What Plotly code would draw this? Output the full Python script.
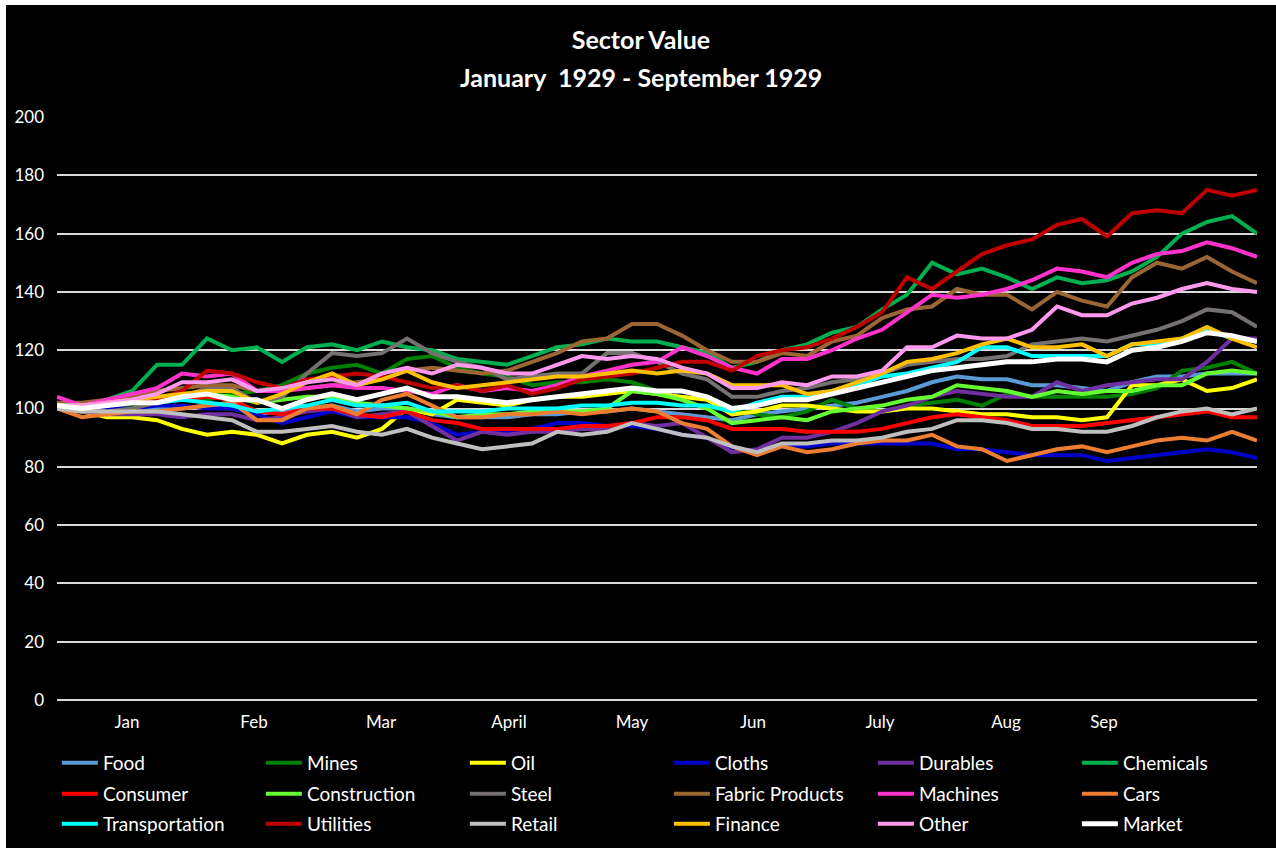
import plotly.graph_objects as go

# ---- data (index = sample position along the Jan-Sep 1929 time axis) ----
n_points = 49
month_labels = ["Jan", "Feb", "Mar", "April", "May", "Jun", "July", "Aug", "Sep"]
month_pos = [2.8, 7.88, 12.96, 18.08, 23.0, 27.84, 32.92, 37.96, 41.88]

food = [100,99,99,99,100,100,101,100,98,99, 100,101,99,100,100,98,97,97,97,98,
        98,99,99,100,99,98,97,96,98,99, 100,101,102,104,106,109,111,110,110,108,
        108,107,106,109,111,111,112,112,112]
mines = [101,100,100,101,102,103,103,105,106,108, 112,114,115,112,117,118,114,112,111,108,
         109,109,110,109,106,103,100,100,98,97, 99,103,100,99,101,102,103,101,105,104,
         104,104,104,105,107,113,114,116,112]
oil = [100,99,97,97,96,93,91,92,91,88, 91,92,90,93,100,98,103,102,101,103,
       104,104,105,106,105,104,103,98,99,101, 101,100,99,99,100,100,99,98,98,97,
       97,96,97,108,108,110,106,107,110]
cloths = [100,100,100,100,101,101,100,100,98,95, 97,99,97,97,97,95,91,92,92,93,
          95,95,94,94,93,91,90,86,85,87, 87,88,88,88,88,88,86,86,85,84,
          84,84,82,83,84,85,86,85,83]
durables = [100,99,98,98,98,97,98,98,96,97, 99,100,97,98,99,94,89,92,91,92,
            92,93,93,95,94,95,90,85,86,90, 90,92,95,99,101,104,106,105,104,104,
            109,106,108,109,110,110,116,124,124]
chemicals = [102,101,103,106,115,115,124,120,121,116, 121,122,120,123,121,120,117,116,115,118,
             121,122,124,123,123,121,119,114,116,120, 122,126,128,134,139,150,146,148,145,141,
             145,143,144,147,152,160,164,166,160]
consumer = [100,100,101,102,102,103,104,103,99,98, 100,100,98,97,99,96,95,93,93,93,
            93,94,94,95,97,97,96,93,93,93, 92,92,92,93,95,97,98,97,96,94,
            94,94,95,96,97,98,99,97,97]
construction = [101,101,102,103,103,104,105,104,102,103, 104,104,102,101,100,99,97,98,98,99,
                99,99,100,106,105,103,100,95,96,97, 96,99,100,101,103,104,108,107,106,104,
                106,105,106,106,108,108,112,113,112]
steel = [102,100,99,100,102,104,107,107,102,104, 112,119,118,119,124,119,116,114,110,111,
         112,112,119,119,116,112,110,104,104,106, 107,109,110,112,115,116,117,117,118,122,
         123,124,123,125,127,130,134,133,128]
fabric = [102,102,103,104,106,107,108,108,106,106, 107,108,109,110,113,114,113,112,113,116,
          119,123,124,129,129,125,120,116,116,119, 118,123,125,131,134,135,141,139,139,134,
          140,137,135,145,150,148,152,147,143]
machines = [104,101,103,105,107,112,111,112,106,106, 107,108,107,107,106,105,108,106,107,106,
            108,111,113,115,116,121,118,114,112,117, 117,120,124,127,133,139,138,139,141,144,
            148,147,145,150,153,154,157,155,152]
cars = [100,97,98,99,99,100,101,102,96,96, 100,101,98,103,105,101,97,97,98,98,
        99,98,99,100,99,95,93,87,84,87, 85,86,88,89,89,91,87,86,82,84,
        86,87,85,87,89,90,89,92,89]
transportation = [101,101,101,102,102,103,102,101,99,100, 101,103,101,101,102,99,99,99,100,100,
                  100,101,101,102,102,101,101,99,102,104, 104,106,108,111,112,114,116,121,121,118,
                  118,118,118,122,122,124,127,124,123]
utilities = [101,100,101,102,103,106,113,112,109,107, 110,111,112,111,109,107,108,106,108,105,
             107,110,111,112,114,116,116,113,118,120, 121,124,128,133,145,141,147,153,156,158,
             163,165,159,167,168,167,175,173,175]
retail = [100,99,99,99,99,98,97,96,92,92, 93,94,92,91,93,90,88,86,87,88,
          92,91,92,95,93,91,90,87,85,88, 88,89,89,90,92,93,96,96,95,93,
          93,92,92,94,97,99,100,98,100]
finance = [101,101,102,103,104,105,106,106,102,105, 109,112,108,110,113,109,107,108,109,110,
           111,111,112,113,112,113,112,108,108,108, 105,106,109,112,116,117,119,122,124,121,
           121,122,118,122,123,124,128,124,121]
other = [101,101,102,103,105,109,109,110,106,107, 109,110,108,112,114,112,115,114,112,112,
         115,118,117,118,117,114,112,107,107,109, 108,111,111,113,121,121,125,124,124,127,
         135,132,132,136,138,141,143,141,140]
market = [101,100,101,102,102,104,105,103,103,100, 103,105,103,105,107,104,104,103,102,103,
          104,105,106,107,106,106,104,100,101,103, 103,105,107,109,111,113,114,115,116,116,
          117,117,116,120,121,123,126,125,123]

series_names = ["Food", "Mines", "Oil", "Cloths", "Durables", "Chemicals",
                "Consumer", "Construction", "Steel", "Fabric Products", "Machines", "Cars",
                "Transportation", "Utilities", "Retail", "Finance", "Other", "Market"]
series_values = [food, mines, oil, cloths, durables, chemicals,
                 consumer, construction, steel, fabric, machines, cars,
                 transportation, utilities, retail, finance, other, market]

# ---- styles ----
colors = ["#5B9BD5", "#008000", "#FFFF00", "#0000C8", "#7030A0", "#00B050",
          "#FF0000", "#66FF33", "#767171", "#9C6634", "#FF33CC", "#ED7D31",
          "#00FFFF", "#C00000", "#BFBFBF", "#FFC000", "#FF99EE", "#FFFFFF"]

FONT = "Lato, 'Open Sans', sans-serif"
x_idx = list(range(n_points))

fig = go.Figure()
legend_ids = ["legend", "legend2", "legend3"]
for i, (name, vals) in enumerate(zip(series_names, series_values)):
    fig.add_trace(go.Scatter(
        x=x_idx, y=vals, name=name, mode="lines",
        line=dict(color=colors[i], width=5 if name == "Market" else 4),
        legend=legend_ids[i // 6],
        hoverinfo="name+y",
    ))

legend_common = dict(
    orientation="h", xref="paper", yref="paper", x=-0.0001, xanchor="left",
    yanchor="middle", bgcolor="rgba(0,0,0,0)", borderwidth=0,
    font=dict(family=FONT, size=19, color="white"),
    itemwidth=36, entrywidth=153, entrywidthmode="pixels", itemclick=False,
)

fig.update_layout(
    width=1270, height=843,
    paper_bgcolor="black", plot_bgcolor="black",
    margin=dict(l=51, r=19, t=112, b=148, autoexpand=False),
    font=dict(family=FONT, color="white", size=17),
    title=dict(text="<b>Sector Value</b>", x=0.5, xanchor="center",
               xref="container", yref="container", y=1 - 35 / 843, yanchor="middle",
               font=dict(family=FONT, size=25, color="white")),
    annotations=[dict(text="<b>January\u00a0\u00a01929 - September 1929</b>",
                      xref="paper", yref="paper", x=(635 - 51) / 1200, y=(583 + 40) / 583,
                      xanchor="center", yanchor="middle", showarrow=False,
                      font=dict(family=FONT, size=25, color="white"))],
    xaxis=dict(range=[0, n_points - 1], tickmode="array", tickvals=month_pos,
               ticktext=month_labels, showgrid=False, zeroline=False, showline=False,
               ticks="", ticklabelstandoff=10,
               tickfont=dict(family=FONT, size=17, color="white"), fixedrange=True),
    yaxis=dict(range=[0, 200], dtick=20, tick0=0, showgrid=True,
               gridcolor="#D9D9D9", gridwidth=1.5, zeroline=True,
               zerolinecolor="#D9D9D9", zerolinewidth=1.5, showline=False, ticks="",
               ticklabelstandoff=12,
               tickfont=dict(family=FONT, size=17, color="white"), fixedrange=True),
    legend=dict(legend_common, y=(695 - 758) / 583),
    legend2=dict(legend_common, y=(695 - 789) / 583),
    legend3=dict(legend_common, y=(695 - 819) / 583),
    showlegend=True,
)

fig.write_html(
    "out.html",
    post_script="document.body.style.margin='5px 0 0 6px';"
                "document.body.style.overflow='hidden';"
                "document.body.style.background='#ffffff';",
)
